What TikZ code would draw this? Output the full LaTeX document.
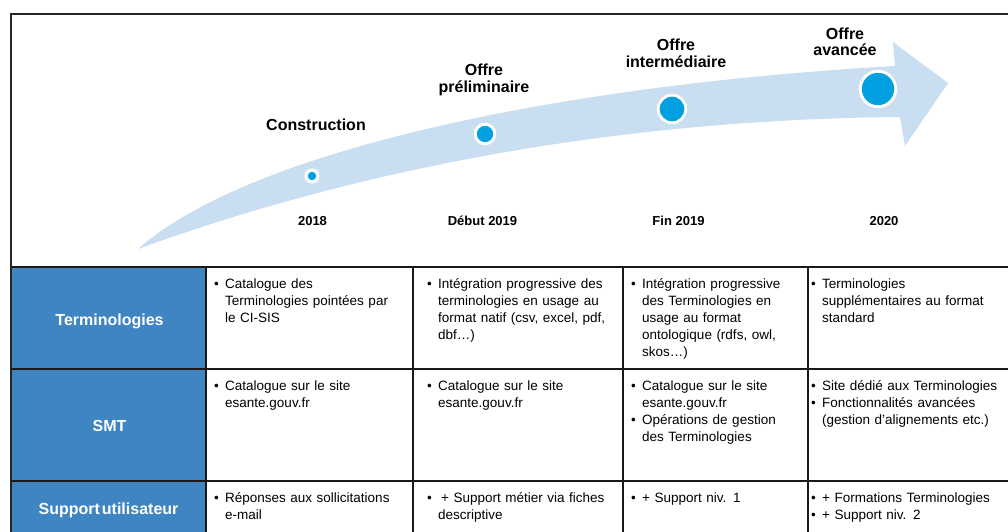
\documentclass[tikz,border=0pt]{standalone}
\usepackage{fontspec}
\setmainfont{Liberation Sans}
\definecolor{arrowblue}{HTML}{CADEF1}
\definecolor{dotblue}{HTML}{00A0E1}
\definecolor{hdrblue}{HTML}{3F85C2}
\newcommand\bu{\makebox[11pt][l]{•}}
\newcommand\ind{\hspace*{11pt}}
\begin{document}
\begin{tikzpicture}[x=1pt,y=-1pt,
  rule/.style={line width=1.6pt, draw=black!90},
  frame/.style={line width=1.5pt, draw=black!85},
  dot/.style={circle, fill=dotblue, draw=white, inner sep=0pt},
  title/.style={font=\bfseries\fontsize{16}{16.6}\selectfont, text width=130pt, align=center, inner sep=0pt, anchor=base},
  year/.style={font=\bfseries\fontsize{13}{15}\selectfont, inner sep=0pt, anchor=base},
  hdr/.style={font=\bfseries\fontsize{16}{18}\selectfont, text=white, inner sep=0pt, anchor=base},
  cell/.style={font=\fontsize{13.5}{17}\selectfont, text width=205pt, align=left, inner sep=0pt, anchor=base west}]

\useasboundingbox (0,0) rectangle (1008,532);
\fill[white] (0,0) rectangle (1008,532);

% curved timeline arrow
\fill[arrowblue] (138,249) .. controls (250,150) and (560,85) .. (895,66)
  -- (893,42) -- (948,83) -- (905,146) -- (900,117)
  .. controls (560,120) and (300,190) .. (138,249) -- cycle;

% milestones on the arrow
\node[dot, line width=3.3pt, minimum size=11.7pt] (d1) at (312,176) {};
\node[dot, line width=3pt, minimum size=19.6pt] (d2) at (485,134) {};
\node[dot, line width=2.8pt, minimum size=27.6pt] (d3) at (672,109) {};
\node[dot, line width=2.9pt, minimum size=35.5pt] (d4) at (878,89) {};

% phase titles
\node[title] (t1) at (316,130) {Construction};
\node[title] (t2) at (484,75.7) {Offre\\préliminaire};
\node[title] (t3) at (676,50.9) {Offre\\intermédiaire};
\node[title] (t4) at (845,39.3) {Offre\\avancée};

% dates
\node[year] (y1) at (312.5,225) {2018};
\node[year] (y2) at (482.5,225) {Début 2019};
\node[year] (y3) at (678.5,225) {Fin 2019};
\node[year] (y4) at (884,225) {2020};

% table: row header column
\fill[hdrblue] (11,267) rectangle (206,532);
\node[hdr] (h1) at (109.5,325) {Terminologies};
\node[hdr] (h2) at (109.5,431) {SMT};
\node[hdr] (h3) at (108.5,514.3) {Support\hspace{2pt}utilisateur};

% grid and frame
\draw[frame] (1008,14) -- (11,14) -- (11,532);
\foreach \yy in {267,369,481} \draw[rule] (11,\yy) -- (1008,\yy);
\foreach \xx in {206,413,623,808} \draw[rule] (\xx,267) -- (\xx,532);

% row: Terminologies
\node[cell] (c11) at (214,288.5) {\bu Catalogue des\\\ind\makebox[171pt][s]{Terminologies pointées par}\\\ind le CI-SIS};
\node[cell] (c12) at (427,288.5) {\bu Intégration progressive des\\\ind terminologies en usage  au\\\ind format natif (csv, excel, pdf,\\\ind dbf…)};
\node[cell] (c13) at (631,288.5) {\bu Intégration progressive\\\ind des Terminologies en\\\ind usage au  format\\\ind ontologique  (rdfs, owl,\\\ind skos…)};
\node[cell] (c14) at (811,288.5) {\bu Terminologies\\\ind supplémentaires  au format\\\ind standard};

% row: SMT
\node[cell] (c21) at (214,390.7) {\bu Catalogue  sur le site\\\ind esante.gouv.fr};
\node[cell] (c22) at (427,390.7) {\bu Catalogue  sur le site\\\ind esante.gouv.fr};
\node[cell] (c23) at (631,390.7) {\bu Catalogue  sur le site\\\ind esante.gouv.fr\\\bu Opérations  de gestion\\\ind des Terminologies};
\node[cell] (c24) at (811,390.7) {\bu Site dédié aux Terminologies\\\bu Fonctionnalités  avancées\\\ind (gestion d’alignements  etc.)};

% row: Support utilisateur
\node[cell] (c31) at (214,502.3) {\bu\makebox[167pt][s]{Réponses aux sollicitations}\\\ind e-mail};
\node[cell] (c32) at (427,502.3) {\bu\hspace{3pt}+ Support métier via fiches\\\ind descriptive};
\node[cell] (c33) at (631,502.3) {\bu + Support niv. 1};
\node[cell] (c34) at (811,502.3) {\bu + Formations  Terminologies\\\bu + Support niv. 2};
\end{tikzpicture}
\end{document}
